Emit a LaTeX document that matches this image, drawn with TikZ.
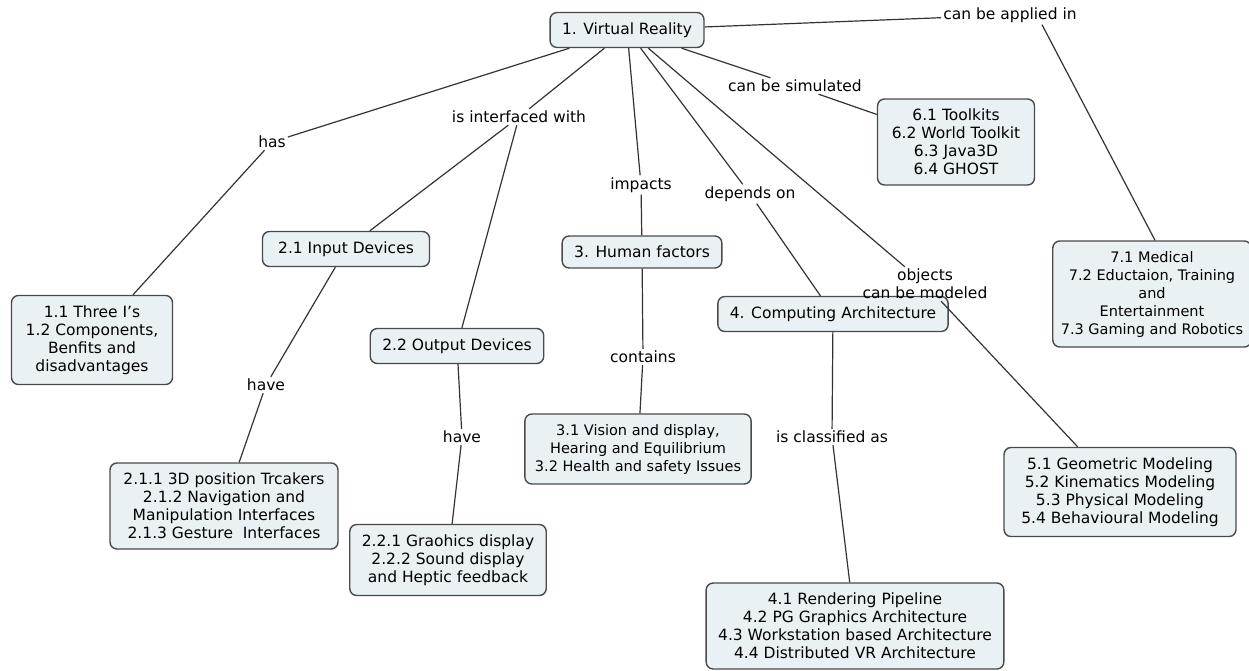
\documentclass[tikz,border=0pt]{standalone}
\usepackage{fontspec}
\setmainfont{DejaVu Sans}
\definecolor{boxfill}{HTML}{EAF1F5}
\definecolor{boxline}{HTML}{4A4A4A}
\definecolor{conline}{HTML}{333333}
\tikzset{
  cbox/.style={draw=boxline, fill=boxfill, line width=1.4pt, rounded corners=7pt,
    align=center, inner xsep=12pt, inner ysep=10pt, font=\fontsize{15.5}{18}\selectfont},
  lbl/.style={inner sep=2pt, align=center, font=\fontsize{15.5}{18}\selectfont},
  conn/.style={draw=conline, line width=1.2pt}
}
\begin{document}
\begin{tikzpicture}[x=1pt,y=-1pt]
\useasboundingbox (0,0) rectangle (1249,671);
% concept boxes
\node[cbox] (vr) at (627,30) {1. Virtual Reality};
\node[cbox, minimum width=161pt] (b11) at (92,340) {1.1 Three I's\\1.2 Components,\\Benfits and\\disadvantages};
\node[cbox, minimum width=167pt] (b21) at (346,249) {2.1 Input Devices};
\node[cbox] (b22) at (457,346) {2.2 Output Devices};
\node[cbox] (b3) at (642,252) {3. Human factors};
\node[cbox] (b4) at (833,314) {4. Computing Architecture};
\node[cbox, font=\fontsize{14.5}{18}\selectfont, inner xsep=10pt] (b31) at (638,449) {3.1 Vision and display,\\Hearing and Equilibrium\\3.2 Health and safety Issues};
\node[cbox, minimum width=228pt] (b211) at (224,506) {2.1.1 3D position Trcakers\\2.1.2 Navigation and\\Manipulation Interfaces\\2.1.3 Gesture\ \ Interfaces};
\node[cbox] (b221) at (448,560) {2.2.1 Graohics display\\2.2.2 Sound display\\and Heptic feedback};
\node[cbox] (b41) at (855,626) {4.1 Rendering Pipeline\\4.2 PG Graphics Architecture\\4.3 Workstation based Architecture\\4.4 Distributed VR Architecture};
\node[cbox, minimum width=232pt] (b51) at (1120,492) {5.1 Geometric Modeling\\5.2 Kinematics Modeling\\5.3 Physical Modeling\\5.4 Behavioural Modeling};
\node[cbox, minimum width=157pt] (b61) at (956,142) {6.1 Toolkits\\6.2 World Toolkit\\6.3 Java3D\\6.4 GHOST};
\node[cbox, font=\fontsize{14.5}{18}\selectfont, inner xsep=8pt] (b71) at (1152,294) {7.1 Medical\\7.2 Eductaion, Training\\and\\Entertainment\\7.3 Gaming and Robotics};
% linking phrases
\node[lbl] (applied) at (1010,15) {can be applied in};
\node[lbl] (simulated) at (795,86) {can be simulated};
\node[lbl] (has) at (272,142) {has};
\node[lbl] (intf) at (519,117) {is interfaced with};
\node[lbl] (impacts) at (641,185) {impacts};
\node[lbl] (depends) at (750,194) {depends on};
\node[lbl] (objects) at (925,284) {objects\\can be modeled};
\node[lbl] (have1) at (266,385) {have};
\node[lbl] (have2) at (462,437) {have};
\node[lbl] (contains) at (643,357) {contains};
\node[lbl] (classified) at (832,437) {is classified as};
% connectors
\draw[conn] (vr) -- (has);
\draw[conn] (has) -- (b11);
\draw[conn] (vr) -- (intf);
\draw[conn] (intf) -- (b21);
\draw[conn] (intf) -- (b22);
\draw[conn] (vr) -- (impacts);
\draw[conn] (impacts) -- (b3);
\draw[conn] (vr) -- (depends);
\draw[conn] (depends) -- (b4);
\draw[conn] (vr) -- (objects);
\draw[conn] (objects) -- (b51);
\draw[conn] (vr) -- (simulated);
\draw[conn] (simulated) -- (b61);
\draw[conn] (vr) -- (applied);
\draw[conn] ([xshift=32pt]applied.south) -- ([xshift=3pt]b71.north);
\draw[conn] (b21) -- (have1);
\draw[conn] (have1) -- (b211);
\draw[conn] (b22) -- (have2);
\draw[conn] (have2) -- (b221);
\draw[conn] (b3) -- (contains);
\draw[conn] (contains) -- (b31);
\draw[conn] (b4) -- (classified);
\draw[conn] (classified) -- (b41);
\end{tikzpicture}
\end{document}
